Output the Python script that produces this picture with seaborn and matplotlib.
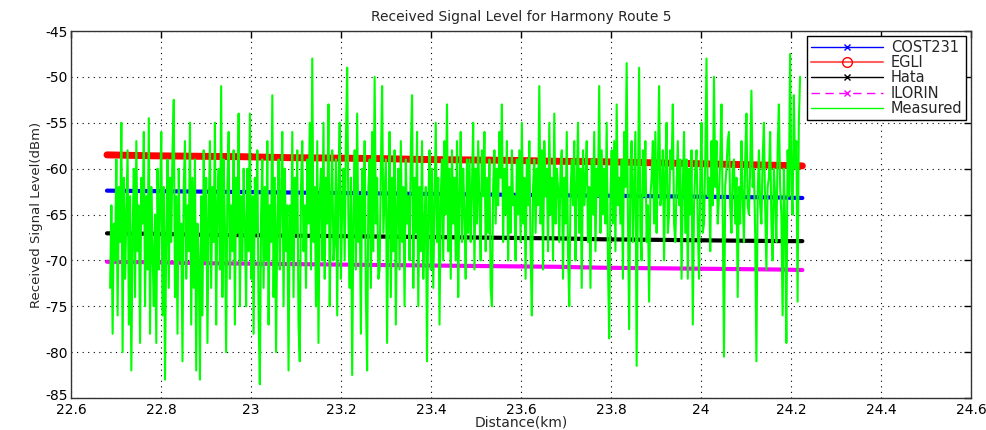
import numpy as np
import pandas as pd
import matplotlib
matplotlib.use("Agg")
import matplotlib.pyplot as plt
from matplotlib.lines import Line2D
from matplotlib.ticker import FuncFormatter
from matplotlib.transforms import ScaledTranslation
import seaborn as sns

model_dist = [22.68, 22.78, 22.88, 22.98, 23.08, 23.18, 23.28, 23.38, 23.48,
              23.58, 23.68, 23.78, 23.88, 23.98, 24.08, 24.18, 24.225]

cost231 = [-62.4, -62.45, -62.5, -62.55, -62.6, -62.65, -62.7, -62.75, -62.8,
           -62.85, -62.9, -62.95, -63.0, -63.05, -63.1, -63.15, -63.2]
egli = [-58.5, -58.6, -58.65, -58.7, -58.8, -58.85, -58.9, -59.0, -59.05,
        -59.1, -59.2, -59.25, -59.35, -59.45, -59.55, -59.65, -59.7]
hata = [-67.05, -67.1, -67.2, -67.25, -67.3, -67.35, -67.4, -67.45, -67.5,
        -67.55, -67.6, -67.7, -67.75, -67.8, -67.85, -67.9, -67.9]
ilorin = [-70.15, -70.2, -70.3, -70.35, -70.4, -70.45, -70.5, -70.55, -70.6,
          -70.65, -70.7, -70.8, -70.85, -70.9, -70.95, -71.0, -71.05]

# measured drive-test samples, evenly spaced along the route
meas_start, meas_end = 22.687, 24.22
measured = [
    -73, -64, -78, -66, -70, -59, -76, -62, -68, -55, -80, -61, -72, -65, -58, -77, -63, -82,
    -67, -60, -74, -57, -69, -64, -79, -61, -66, -56, -75, -63, -71, -54.5, -78, -62, -69, -75,
    -65, -79, -60, -71, -64, -56, -76, -62, -83, -67, -59, -73, -61, -68, -58, -52.5, -74, -63,
    -78, -60, -70, -66, -81, -62, -57, -72, -64, -69, -55, -77, -61, -73, -59, -82, -66, -70,
    -83, -63, -76, -58, -70, -61, -79, -65, -57, -73, -62, -68, -55, -77, -64, -60, -71, -51,
    -74, -59, -66, -80, -62, -56, -72, -64, -69, -58, -77, -61, -67, -54, -75, -63, -70, -60,
    -66, -75, -60, -69, -54, -72, -63, -78, -61, -67, -58, -76, -83.5, -65, -59, -73, -62, -70,
    -57, -77, -64, -68, -52, -74, -61, -80, -66, -59, -71, -63, -56, -75, -60, -69, -64, -82,
    -64, -70, -56, -74, -61, -67, -58, -77, -81, -62, -57, -69, -64, -73, -59, -66, -55, -71,
    -48, -68, -62, -75, -57, -79, -63, -60, -70, -55, -72, -61, -66, -53, -75, -64, -58, -70,
    -68, -59, -76, -62, -55, -72, -64, -60, -70, -57, -49, -66, -73, -61, -82.5, -65, -58, -71,
    -54, -68, -63, -78, -60, -67, -57, -74, -82, -62, -59, -73, -56, -69, -50, -66, -61, -72,
    -71, -60, -51, -67, -63, -59, -79, -65, -56, -74, -61, -69, -58, -77, -64, -60, -71, -57,
    -68, -62, -75, -59, -66, -63, -70, -58, -52, -73, -61, -67, -56, -75, -62, -69, -57, -72,
    -66, -62, -81, -64, -58, -71, -60, -73, -64, -55, -68, -61, -77, -63, -59, -70, -57, -65,
    -53, -69, -60, -72, -58, -66, -61, -70, -57, -74, -63, -56, -68, -60, -65, -72, -59, -67,
    -59, -68, -62, -55, -71, -60, -66, -57, -64, -70, -58, -63, -56, -69, -61, -67, -59, -73,
    -75, -62, -58, -66, -60, -64, -56, -61, -53, -68, -60, -65, -57, -70, -62, -67, -58, -64,
    -63, -70, -59, -65, -58, -68, -55, -66, -61, -72, -59, -64, -57, -69, -76, -62, -59, -67,
    -60, -64, -51, -66, -58, -71, -57, -63, -60, -69, -55, -65, -61, -70, -54, -66, -60, -62,
    -68, -60, -58, -72, -61, -66, -56, -69, -75, -63, -59, -64, -57, -70, -62, -55, -67, -60,
    -73, -58, -64, -61, -57, -68, -62, -73, -59, -65, -56, -69, -60, -63, -51, -67, -58, -65,
    -60, -66, -55, -70, -78.5, -63, -58, -66, -57, -69, -53, -64, -61, -66, -59, -72, -56, -62,
    -48.5, -65, -77.5, -60, -57, -68, -62, -56, -81.5, -63, -49, -67, -70, -58, -63, -57, -68, -64,
    -74.5, -63, -61, -57, -66, -56, -67, -60, -51, -64, -63, -58, -70, -60, -55, -67, -65, -58,
    -60, -53, -66, -68, -62, -57, -64, -59, -72, -62, -56, -67, -59, -72, -60, -65, -58, -77,
    -64, -60, -58, -66, -72, -61, -55, -67, -66, -59, -48, -63, -61, -69, -57, -64, -50, -62,
    -57, -66, -63, -59, -53, -65, -80.5, -62, -60, -57, -56, -64, -67, -60, -59, -66, -61, -74,
    -62, -66, -57, -63, -68, -59, -54, -64, -65, -60, -51.5, -62, -60, -67, -81, -63, -58, -64,
    -66, -59, -55, -64, -71, -62, -61, -56, -66, -70, -60, -63, -68, -58, -53, -62, -65, -76,
    -60, -66, -79, -58, -63, -47.5, -62, -65, -52, -60, -57, -74.5, -55, -50,
]

sns.set_theme(style="white")
plt.rcParams['font.family'] = ['DejaVu Sans']

models = pd.DataFrame({'dist': model_dist, 'COST231': cost231, 'EGLI': egli,
                       'Hata': hata, 'ILORIN': ilorin})
meas_df = pd.DataFrame({'dist': np.linspace(meas_start, meas_end, len(measured)),
                        'level': measured})

fig = plt.figure(figsize=(9.87, 4.30), dpi=100)
ax = fig.add_axes([0.0719, 0.0744, 0.912, 0.8535])

sns.lineplot(data=models, x='dist', y='COST231', color='#0000ff', linewidth=3, ax=ax)
sns.lineplot(data=models, x='dist', y='EGLI', color='#ff0000', linewidth=5, ax=ax)
sns.lineplot(data=models, x='dist', y='Hata', color='black', linewidth=3, ax=ax)
sns.lineplot(data=models, x='dist', y='ILORIN', color='#ff00ff', linewidth=3, ax=ax)
sns.lineplot(data=meas_df, x='dist', y='level', color='#00ff00', linewidth=1.5,
             sort=False, ax=ax)

ax.set_xlim(22.6, 24.6)
ax.set_ylim(-85, -45)
ax.set_xticks(np.arange(22.6, 24.61, 0.2))
ax.set_yticks(np.arange(-85, -44, 5))
ax.xaxis.set_major_formatter(FuncFormatter(lambda v, p: f"{v:g}"))
ax.yaxis.set_major_formatter(FuncFormatter(lambda v, p: f"{v:g}"))
ax.tick_params(direction='in', length=5, width=1, top=True, right=True,
               labelsize=10, colors='black', pad=2)
ax.tick_params(axis='x', pad=3.5)
ax.grid(True, linestyle=(0, (1, 4)), color='black', linewidth=0.8)
for s in ax.spines.values():
    s.set_color('#333333')
    s.set_linewidth(1)

# nudge the bottom y label up a little so it sits clear of the first x label
fig.canvas.draw()
lowest = ax.get_yticklabels()[0]
lowest.set_transform(lowest.get_transform() + ScaledTranslation(0, 4 / 100, fig.dpi_scale_trans))

ax.set_title("Received Signal Level for Harmony Route 5", fontsize=10, pad=7)
ax.set_xlabel("Distance(km)", fontsize=10, labelpad=-1)
ax.set_ylabel("Received Signal Level(dBm)", fontsize=9.5, labelpad=2)

handles = [
    Line2D([], [], color='#0000ff', marker='x', markersize=4, linewidth=1),
    Line2D([], [], color='#ff6060', marker='o', markersize=7, markerfacecolor='none',
           markeredgecolor='#ff0000', linewidth=1.5),
    Line2D([], [], color='black', marker='x', markersize=4, linewidth=1),
    Line2D([], [], color='#ff00ff', marker='x', markersize=4, linewidth=1, linestyle='--',
           dashes=(6, 4)),
    Line2D([], [], color='#00ff00', linewidth=1),
]
leg = ax.legend(handles, ['COST231', 'EGLI', 'Hata', 'ILORIN', 'Measured'],
                loc='upper right', fontsize=10.5, handlelength=5.0, handletextpad=0.5,
                labelspacing=0.02, borderaxespad=0.35, fancybox=False, framealpha=1,
                edgecolor='black', borderpad=0.25)
leg.get_frame().set_linewidth(1)

fig.savefig('out.png', dpi=100, facecolor='white')
